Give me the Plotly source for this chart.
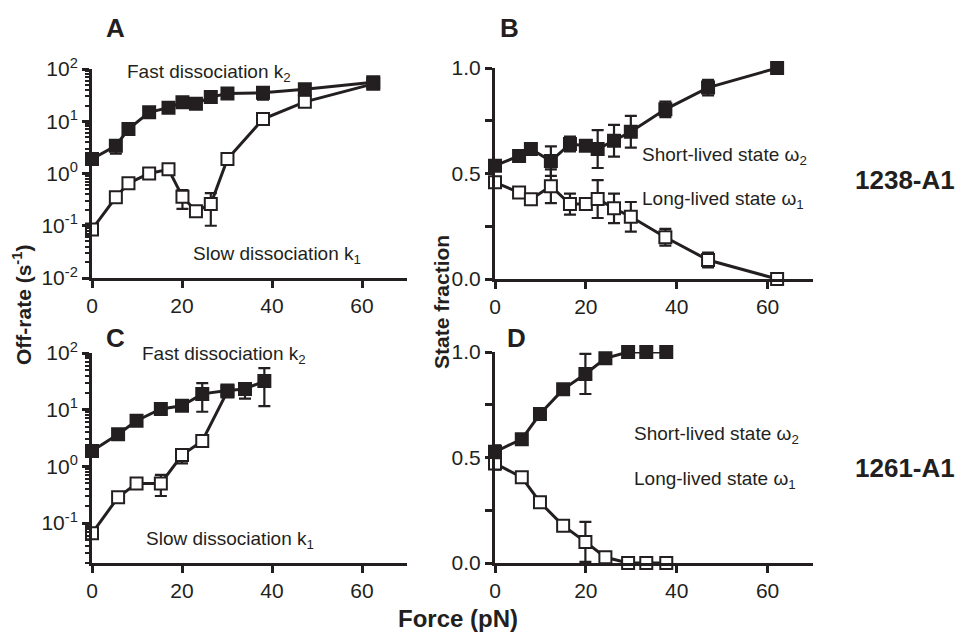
import plotly.graph_objects as go

# ---------------- data ----------------
# Panel A (1238-A1 off-rates)
force_A = [0, 5.3, 8.1, 12.7, 17.0, 20.1, 23.1, 26.4, 30.1, 38.0, 47.3, 62.5]
k2_A = [1.9, 3.4, 7.1, 14.8, 18.2, 23, 21.7, 29, 34, 35, 41, 56]
k2_A_up = [0, 0.8, 0, 0, 0, 0, 0, 0, 0, 8.5, 5, 0]
k2_A_dn = [0, 1.0, 0, 0, 0, 0, 0, 0, 0, 9, 5, 0]
k1_A = [0.085, 0.35, 0.65, 1.0, 1.2, 0.36, 0.19, 0.26, 1.9, 11, 23.5, 52]
k1_A_up = [0, 0, 0, 0, 0, 0.12, 0, 0.16, 0, 0, 0, 0]
k1_A_dn = [0, 0, 0, 0, 0, 0.15, 0, 0.16, 0, 0, 0, 0]

# Panel B (1238-A1 state fractions)
force_B = [0, 5.3, 7.9, 12.3, 16.5, 20.0, 22.6, 26.2, 29.9, 37.5, 46.9, 62.1]
w2_B = [0.537, 0.583, 0.616, 0.559, 0.64, 0.632, 0.616, 0.655, 0.698, 0.804, 0.907, 1.0]
w2_B_err = [0.015, 0.01, 0.01, 0.07, 0.035, 0.02, 0.09, 0.075, 0.075, 0.037, 0.037, 0]
w1_B = [0.458, 0.41, 0.378, 0.44, 0.355, 0.355, 0.379, 0.335, 0.295, 0.198, 0.09, 0.0]
w1_B_err = [0.015, 0.01, 0.01, 0.08, 0.05, 0.02, 0.09, 0.07, 0.07, 0.04, 0.035, 0]

# Panel C (1261-A1 off-rates)
force_C_fast = [0, 5.8, 9.9, 15.3, 20.0, 24.5, 30.1, 34.0, 38.3]
k2_C = [1.87, 3.7, 6.4, 10.3, 11.7, 19, 21.7, 23.2, 32]
k2_C_up = [0, 0, 0, 0, 0, 10.5, 0, 4, 22]
k2_C_dn = [0, 0, 0, 0, 0, 9.8, 0, 7.5, 20.4]
force_C_slow = [0, 5.8, 9.9, 15.3, 20.0, 24.5, 30.1]
k1_C = [0.066, 0.285, 0.50, 0.50, 1.58, 2.8, 21]
k1_C_up = [0, 0, 0, 0.21, 0.37, 0, 0]
k1_C_dn = [0, 0, 0, 0.2, 0.45, 0, 0]

# Panel D (1261-A1 state fractions)
force_D = [0, 5.9, 9.9, 15.0, 19.9, 24.3, 29.3, 33.3, 37.7]
w2_D = [0.527, 0.587, 0.706, 0.823, 0.896, 0.97, 1.0, 1.0, 1.0]
w2_D_err = [0.03, 0, 0, 0.02, 0.095, 0.01, 0, 0, 0]
w1_D = [0.472, 0.406, 0.288, 0.177, 0.10, 0.027, 0, 0, 0]
w1_D_err = [0.03, 0, 0, 0.02, 0.095, 0.01, 0, 0, 0]

# tick labels
x_ticks = [0, 20, 40, 60]
x_ticktext = ["0", "20", "40", "60"]
logA_ticks = [0.01, 0.1, 1, 10, 100]
logA_text = ["10<sup>-2</sup>", "10<sup>-1</sup>", "10<sup>0</sup>", "10<sup>1</sup>", "10<sup>2</sup>"]
logC_ticks = [0.1, 1, 10, 100]
logC_text = ["10<sup>-1</sup>", "10<sup>0</sup>", "10<sup>1</sup>", "10<sup>2</sup>"]
frac_ticks = [0, 0.5, 1.0]
frac_text = ["0.0", "0.5", "1.0"]
frac_minor = [0.25, 0.75]

INK = "#231f20"
FONT = "Liberation Sans, Arial, sans-serif"
W, H = 958, 635

def px_x(p):
    return p / W

def px_y(p):
    return 1 - p / H

fig = go.Figure()

def add_series(x, y, xa, ya, filled, up=None, dn=None):
    err = None
    if up is not None:
        err = dict(type="data", array=up, arrayminus=dn if dn is not None else up,
                   symmetric=False, color=INK, thickness=2.2, width=6)
    fig.add_trace(go.Scatter(
        x=x, y=y, xaxis=xa, yaxis=ya, mode="lines+markers",
        line=dict(color=INK, width=3),
        marker=dict(symbol="square", size=12,
                    color=INK if filled else "white",
                    line=dict(color=INK, width=2)),
        error_y=err, cliponaxis=False, showlegend=False, hoverinfo="x+y"))

# open first, filled on top
add_series(force_A, k1_A, "x", "y", False, k1_A_up, k1_A_dn)
add_series(force_A, k2_A, "x", "y", True, k2_A_up, k2_A_dn)
add_series(force_B, w1_B, "x2", "y2", False, w1_B_err)
add_series(force_B, w2_B, "x2", "y2", True, w2_B_err)
add_series(force_C_slow, k1_C, "x3", "y3", False, k1_C_up, k1_C_dn)
add_series(force_C_fast, k2_C, "x3", "y3", True, k2_C_up, k2_C_dn)
add_series(force_D, w1_D, "x4", "y4", False, w1_D_err)
add_series(force_D, w2_D, "x4", "y4", True, w2_D_err)

minor_log = [m * 10 ** e for e in range(-2, 2) for m in range(2, 10)]

tickfont = dict(family=FONT, size=21, color=INK)
common_axis = dict(showline=True, linecolor=INK, linewidth=3, ticks="outside",
                   ticklen=7, tickwidth=2.5, tickcolor=INK, showgrid=False,
                   zeroline=False, tickfont=tickfont, mirror=False, automargin=False)

def xaxis(dom, anchor):
    return dict(common_axis, domain=dom, anchor=anchor, range=[0, 70],
                tickmode="array", tickvals=x_ticks, ticktext=x_ticktext)

xdomL = [px_x(92), px_x(407)]
xdomR = [px_x(495), px_x(813)]

fig.update_layout(
    width=W, height=H, margin=dict(l=0, r=0, t=0, b=0, pad=0, autoexpand=False),
    paper_bgcolor="white", plot_bgcolor="white",
    font=dict(family=FONT, color=INK),
    xaxis=xaxis(xdomL, "y"),
    yaxis=dict(common_axis, domain=[px_y(278), px_y(69)], anchor="x", type="log",
               range=[-2, 2], tickmode="array", tickvals=logA_ticks, ticktext=logA_text,
               minor=dict(tickmode="array", tickvals=minor_log, ticks="outside",
                          ticklen=4, tickwidth=1.5, tickcolor=INK)),
    xaxis2=xaxis(xdomR, "y2"),
    yaxis2=dict(common_axis, domain=[px_y(279), px_y(68)], anchor="x2",
                range=[0, 1], tickmode="array", tickvals=frac_ticks, ticktext=frac_text,
                minor=dict(tickmode="array", tickvals=frac_minor, ticks="outside",
                           ticklen=7, tickwidth=2.5, tickcolor=INK)),
    xaxis3=xaxis(xdomL, "y3"),
    yaxis3=dict(common_axis, domain=[px_y(563), px_y(353)], anchor="x3", type="log",
                range=[-1.705, 2], tickmode="array", tickvals=logC_ticks, ticktext=logC_text,
                minor=dict(tickmode="array", tickvals=minor_log, ticks="outside",
                           ticklen=4, tickwidth=1.5, tickcolor=INK)),
    xaxis4=xaxis(xdomR, "y4"),
    yaxis4=dict(common_axis, domain=[px_y(563), px_y(352)], anchor="x4",
                range=[0, 1], tickmode="array", tickvals=frac_ticks, ticktext=frac_text,
                minor=dict(tickmode="array", tickvals=frac_minor, ticks="outside",
                           ticklen=7, tickwidth=2.5, tickcolor=INK)),
)

def note(text, x, y, size=19, bold=False, xanchor="left", angle=0):
    t = f"<b>{text}</b>" if bold else text
    fig.add_annotation(text=t, x=px_x(x), y=px_y(y), xref="paper", yref="paper",
                       xanchor=xanchor, yanchor="middle", showarrow=False, textangle=angle,
                       font=dict(family=FONT, size=size, color=INK))

# panel letters
note("A", 115, 28, size=26, bold=True, xanchor="center")
note("B", 510, 28, size=26, bold=True, xanchor="center")
note("C", 115, 338, size=26, bold=True, xanchor="center")
note("D", 516, 338, size=26, bold=True, xanchor="center")

# curve labels
note("Fast dissociation k<sub>2</sub>", 125, 73)
note("Slow dissociation k<sub>1</sub>", 191, 255)
note("Short-lived state ω<sub>2</sub>", 640, 156)
note("Long-lived state ω<sub>1</sub>", 640, 200)
note("Fast dissociation k<sub>2</sub>", 140, 355)
note("Slow dissociation k<sub>1</sub>", 144, 540)
note("Short-lived state ω<sub>2</sub>", 632, 435)
note("Long-lived state ω<sub>1</sub>", 632, 480)

# construct names
note("1238-A1", 957, 180, size=26, bold=True, xanchor="right")
note("1261-A1", 957, 468, size=26, bold=True, xanchor="right")

# axis titles
note("Off-rate (s<sup>-1</sup>)", 22, 305, size=21, bold=True, xanchor="center", angle=-90)
note("State fraction", 441, 302, size=21, bold=True, xanchor="center", angle=-90)
note("Force (pN)", 458, 618, size=24, bold=True, xanchor="center")

fig.write_html("out.html", config={"displayModeBar": False},
               post_script="document.body.style.margin='0';")
